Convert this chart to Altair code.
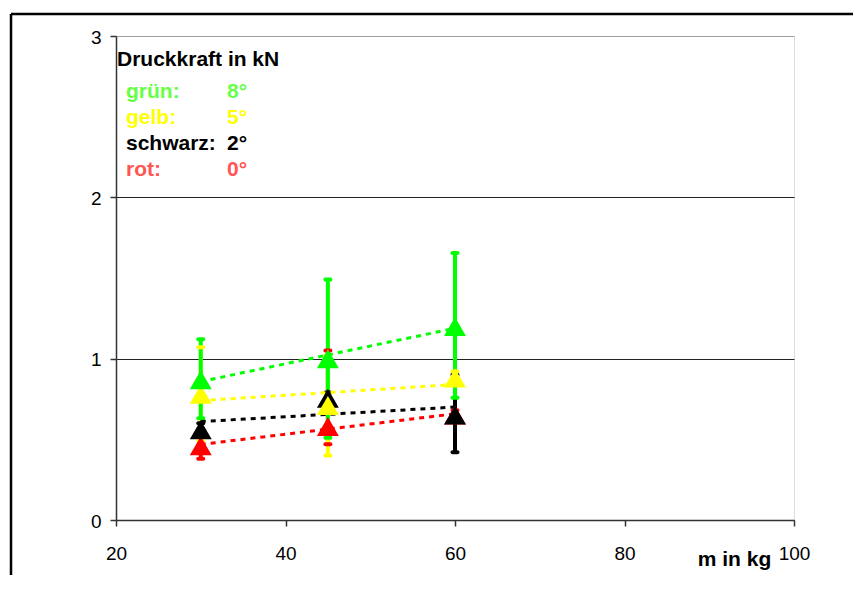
import altair as alt
import pandas as pd

# ---- data ----
masses = [30, 45, 60]
series_names = ["rot", "schwarz", "gelb", "grün"]          # drawing order
marker_colors = ["#ff0000", "#000000", "#ffff00", "#00ff00"]

force_rot = [0.46, 0.58, 0.65]
force_schwarz = [0.56, 0.755, 0.65]
force_gelb = [0.78, 0.71, 0.88]
force_gruen = [0.87, 1.00, 1.20]

low_rot = [0.38, 0.47, 0.62]
high_rot = [0.52, 1.05, 0.68]
low_schwarz = [0.52, 0.72, 0.42]
high_schwarz = [0.60, 0.79, 0.90]
low_gelb = [0.49, 0.40, 0.84]
high_gelb = [1.07, 1.02, 0.92]
low_gruen = [0.63, 0.51, 0.757]
high_gruen = [1.12, 1.49, 1.655]

legend_title = "Druckkraft in kN"
legend_labels = ["grün:", "gelb:", "schwarz:", "rot:"]
legend_values = ["8°", "5°", "2°", "0°"]
legend_colors = ["#66ff44", "#ffff00", "#000000", "#ff5555"]

x_ticks = [20, 40, 60, 80, 100]
y_ticks = [0, 1, 2, 3]

# ---- build table ----
forces = [force_rot, force_schwarz, force_gelb, force_gruen]
lows = [low_rot, low_schwarz, low_gelb, low_gruen]
highs = [high_rot, high_schwarz, high_gelb, high_gruen]
rows = []
for i, name in enumerate(series_names):
    for j, m in enumerate(masses):
        rows.append({"series": name, "order": i, "mass": m,
                     "force": forces[i][j], "low": lows[i][j], "high": highs[i][j]})
df = pd.DataFrame(rows)

FONT = "Arial, Liberation Sans, sans-serif"
color_scale = alt.Scale(domain=series_names, range=marker_colors)
color = alt.Color("series:N", scale=color_scale, legend=None)

x_axis = alt.Axis(values=x_ticks, title="m in kg", grid=False, tickSize=6,
                  labelPadding=18, labelFontSize=19, labelFont=FONT, labelColor="black",
                  labelFlush=False, labelOverlap=False,
                  titleFont=FONT, titleFontSize=21, titleFontWeight="bold", titleColor="black",
                  titleX=618, titleY=45, titleBaseline="alphabetic", titleAlign="center",
                  titleAnchor="start",
                  domainColor="#333333", domainWidth=1.5, tickColor="#333333", tickWidth=1.5)
y_axis = alt.Axis(values=y_ticks, title=None, grid=True, tickSize=6, labelPadding=9,
                  labelFontSize=19, labelFont=FONT, labelColor="black",
                  labelFlush=False, labelOverlap=False, labelOffset=1,
                  gridColor=alt.condition("datum.value == 3", alt.value("#a0a0a0"), alt.value("#222222")),
                  gridWidth=1.2,
                  domainColor="#333333", domainWidth=1.5, tickColor="#333333", tickWidth=1.5)
x_scale = alt.Scale(domain=[20, 100], nice=False, zero=False)
y_scale = alt.Scale(domain=[0, 3], nice=False)

base = alt.Chart(df)

bars = base.mark_rule(strokeWidth=4).encode(
    x=alt.X("mass:Q", scale=x_scale, axis=x_axis),
    y=alt.Y("low:Q", scale=y_scale, axis=y_axis),
    y2="high:Q",
    color=color,
)
caps_low = base.mark_tick(orient="horizontal", size=9, thickness=4, cornerRadius=2, opacity=1).encode(
    x=alt.X("mass:Q", scale=x_scale, axis=x_axis),
    y=alt.Y("low:Q", scale=y_scale, axis=y_axis),
    color=color,
)
caps_high = base.mark_tick(orient="horizontal", size=9, thickness=4, cornerRadius=2, opacity=1).encode(
    x=alt.X("mass:Q", scale=x_scale, axis=x_axis),
    y=alt.Y("high:Q", scale=y_scale, axis=y_axis),
    color=color,
)
trend = base.transform_regression("mass", "force", groupby=["series"]).mark_line(
    strokeWidth=3, strokeDash=[5, 5]
).encode(
    x=alt.X("mass:Q", scale=x_scale, axis=x_axis),
    y=alt.Y("force:Q", scale=y_scale, axis=y_axis),
    color=color,
)
points = base.mark_point(shape="triangle-up", filled=True, size=480, opacity=1).encode(
    x=alt.X("mass:Q", scale=x_scale, axis=x_axis),
    y=alt.Y("force:Q", scale=y_scale, axis=y_axis),
    color=color,
)

# ---- annotation block (text legend) ----
one = pd.DataFrame({"a": [0]})
annot = [alt.Chart(one).mark_text(text=legend_title, font=FONT, fontSize=21, fontWeight="bold",
                                  align="left", baseline="alphabetic", color="black").encode(
    x=alt.value(1), y=alt.value(30))]
baselines = [62, 88, 114, 140]
for lab, val, col, yb in zip(legend_labels, legend_values, legend_colors, baselines):
    annot.append(alt.Chart(one).mark_text(text=lab, font=FONT, fontSize=21, fontWeight="bold",
                                          align="left", baseline="alphabetic", color=col).encode(
        x=alt.value(10), y=alt.value(yb)))
    annot.append(alt.Chart(one).mark_text(text=val, font=FONT, fontSize=21, fontWeight="bold",
                                          align="left", baseline="alphabetic", color=col).encode(
        x=alt.value(111), y=alt.value(yb)))

# ---- outer frame ----
frame_top = alt.Chart(one).mark_rule(color="black", strokeWidth=2.5).encode(
    x=alt.value(-105), x2=alt.value(740), y=alt.value(-22))
frame_left = alt.Chart(one).mark_rule(color="black", strokeWidth=2.5).encode(
    x=alt.value(-105), y=alt.value(-22), y2=alt.value(545))

chart = alt.layer(
    bars, caps_low, caps_high, trend, points, *annot, frame_top, frame_left
).properties(
    width=678, height=484,
    autosize="none",
    padding={"left": 108, "top": 28, "right": 59, "bottom": 55},
).configure_view(
    stroke="#909090", strokeWidth=2
).configure(background="white")

chart.save("out.html", embed_options={"renderer": "svg", "actions": False})
